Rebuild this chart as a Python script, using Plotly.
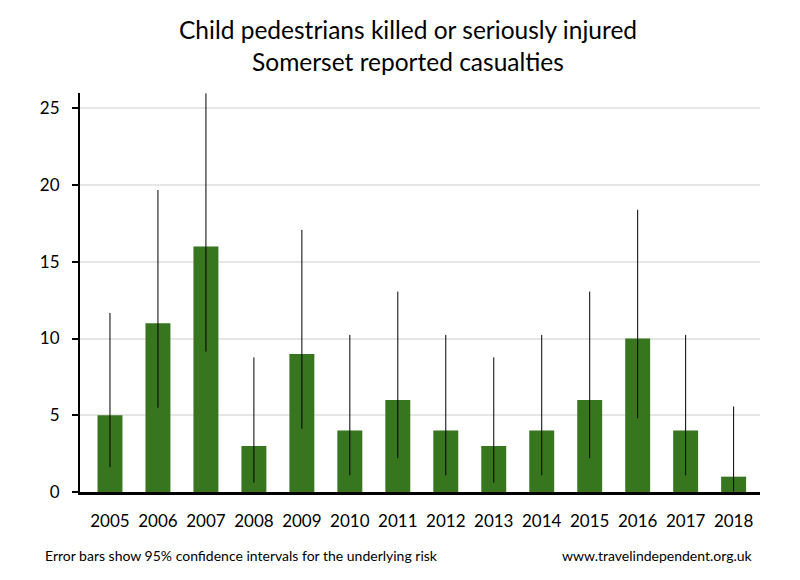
import plotly.graph_objects as go

years = ["2005", "2006", "2007", "2008", "2009", "2010", "2011", "2012", "2013", "2014", "2015", "2016", "2017", "2018"]
casualties = [5, 11, 16, 3, 9, 4, 6, 4, 3, 4, 6, 10, 4, 1]
ci_upper = [11.67, 19.68, 25.98, 8.77, 17.08, 10.24, 13.06, 10.24, 8.77, 10.24, 13.06, 18.39, 10.24, 5.57]
ci_lower = [1.62, 5.49, 9.15, 0.62, 4.12, 1.09, 2.20, 1.09, 0.62, 1.09, 2.20, 4.80, 1.09, 0.03]

err_plus = [u - v for u, v in zip(ci_upper, casualties)]
err_minus = [v - l for v, l in zip(casualties, ci_lower)]

FONT = "Lato"

fig = go.Figure(go.Bar(
    x=years, y=casualties,
    marker=dict(color="#37761f", line=dict(width=0)),
    width=0.52,
    error_y=dict(type="data", symmetric=False, array=err_plus, arrayminus=err_minus,
                 color="black", thickness=1, width=0),
))

fig.update_layout(
    width=800, height=580,
    paper_bgcolor="white", plot_bgcolor="white",
    margin=dict(l=72, r=48, t=85, b=96),
    showlegend=False,
    font=dict(family=FONT, color="black"),
    title=dict(text="Child pedestrians killed or seriously injured<br>Somerset reported casualties",
               x=0.5, xanchor="center", y=0.946, yanchor="top",
               font=dict(family=FONT, size=24.5, color="black")),
    xaxis=dict(type="category", range=[-0.625, 13.55], showline=True, linecolor="black", linewidth=3,
               ticks="", tickfont=dict(size=17), showgrid=False, ticklabelstandoff=12),
    yaxis=dict(range=[0, 26], tickvals=[0, 5, 10, 15, 20, 25], showline=True, linecolor="black",
               linewidth=2, ticks="outside", ticklen=6, tickwidth=2, tickcolor="black",
               tickfont=dict(size=17), showgrid=True, gridcolor="#e6e6e6", gridwidth=2,
               zeroline=False, ticklabelstandoff=9),
    annotations=[
        dict(text="Error bars show 95% confidence intervals for the underlying risk", xref="paper", yref="paper",
             x=-0.055, y=-0.158, xanchor="left", yanchor="middle", showarrow=False,
             font=dict(family=FONT, size=14)),
        dict(text="www.travelindependent.org.uk", xref="paper", yref="paper",
             x=0.993, y=-0.158, xanchor="right", yanchor="middle", showarrow=False,
             font=dict(family=FONT, size=14)),
    ],
)

fig.write_html("out.html")
